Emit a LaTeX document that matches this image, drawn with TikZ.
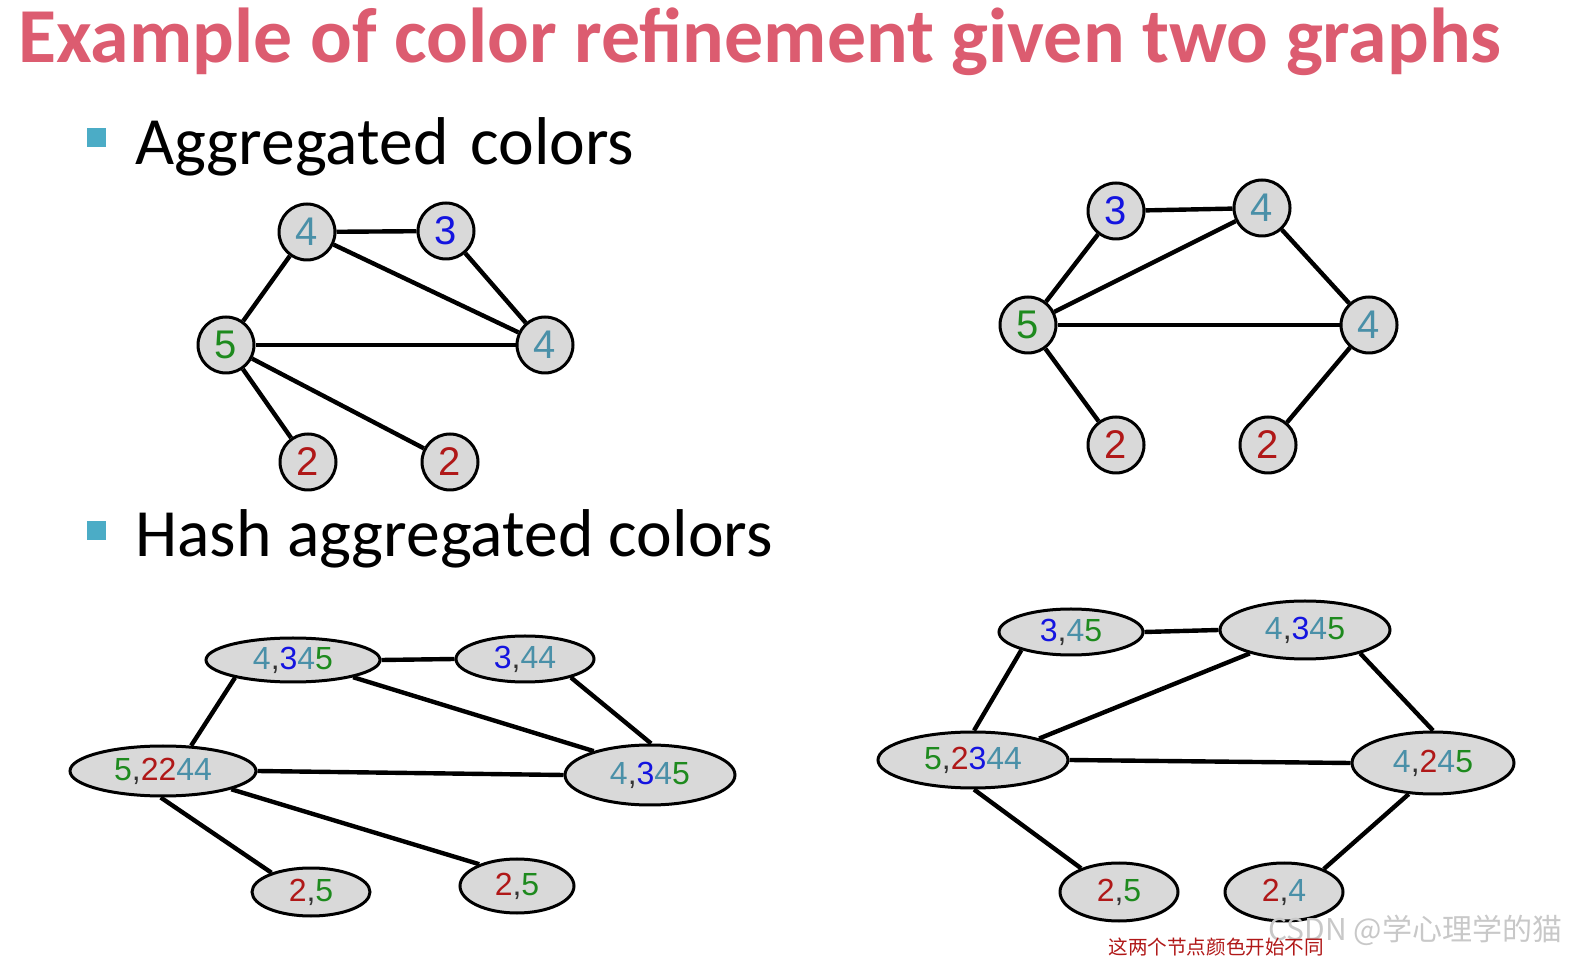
\documentclass[tikz,border=0pt]{standalone}
\usepackage{fontspec}
\setmainfont{Carlito}
\newfontfamily\digitfont{Liberation Sans}
\newfontfamily\cjkfont{Noto Sans CJK SC}
\usetikzlibrary{shapes.geometric, backgrounds}
\definecolor{ctitle}{HTML}{DC5C70}
\definecolor{cbullet}{HTML}{4BACC6}
\definecolor{cnode}{HTML}{D9D9D9}
\definecolor{ccomma}{HTML}{333333}
\definecolor{cmark}{HTML}{C8C8C8}
\definecolor{d2}{HTML}{B01818}
\definecolor{d3}{HTML}{1414E0}
\definecolor{d4}{HTML}{4A90A8}
\definecolor{d5}{HTML}{1E8A1E}
\newcommand{\dg}[1]{\textcolor{d#1}{#1}}
\newcommand{\cm}{\textcolor{ccomma}{,}}
\tikzset{
  every picture/.style={x=0.5pt, y=-0.5pt},
  vtx/.style={circle, draw=black, line width=1.5pt, fill=cnode, minimum size=28pt, inner sep=0pt, font=\digitfont\fontsize{20}{20}\selectfont},
  blob/.style 2 args={ellipse, draw=black, line width=1.5pt, fill=cnode, minimum width=#1pt, minimum height=#2pt, inner sep=0pt, font=\digitfont\fontsize{16}{16}\selectfont},
  edge/.style={line width=2.2pt},
  title/.style={anchor=base west, inner sep=0pt, text=ctitle, font=\fontsize{38.9}{40}\selectfont\bfseries},
  head/.style={anchor=base west, inner sep=0pt, font=\fontsize{33.8}{36}\selectfont},
  bul/.style={fill=cbullet, minimum size=9.5pt, inner sep=0pt},
  note/.style={anchor=base west, inner sep=0pt, text=d2, font=\cjkfont\fontsize{9.8}{10}\selectfont},
  wmark/.style={anchor=base west, inner sep=0pt, text=cmark, font=\cjkfont\fontsize{15}{15}\selectfont},
}
\begin{document}
\begin{tikzpicture}
  \useasboundingbox (0,0) rectangle (1569,961);
  \node[title] (ttl) at (18,63) {Example of color refinement given two graphs};

  % headings
  \node[bul] (b1) at (96.5,137.5) {};
  \node[head] (h1) at (135,165) {Aggregated\hspace{0.1em} colors};
  \node[bul] (b2) at (96.5,530.5) {};
  \node[head] (h2) at (135,557) {Hash aggregated colors};

  % aggregated colors, left graph
  \node[vtx] (a4) at (307,232) {\dg4};
  \node[vtx] (a3) at (446,231) {\dg3};
  \node[vtx] (a5) at (226,345) {\dg5};
  \node[vtx] (a4r) at (545,345) {\dg4};
  \node[vtx] (a2l) at (308,462) {\dg2};
  \node[vtx] (a2r) at (450,462) {\dg2};
  \draw[edge] (a4) -- (a3);
  \draw[edge] (a4) -- (a5);
  \draw[edge] (a4) -- (a4r);
  \draw[edge] (a3) -- (a4r);
  \draw[edge] (a5) -- (a4r);
  \draw[edge] (a5) -- (a2l);
  \draw[edge] (a5) -- (a2r);

  % aggregated colors, right graph
  \node[vtx] (b3) at (1116,211) {\dg3};
  \node[vtx] (b4) at (1262,208) {\dg4};
  \node[vtx] (b5) at (1028,325) {\dg5};
  \node[vtx] (b4r) at (1369,325) {\dg4};
  \node[vtx] (b2l) at (1116,445) {\dg2};
  \node[vtx] (b2r) at (1268,445) {\dg2};
  \draw[edge] (b3) -- (b4);
  \draw[edge] (b3) -- (b5);
  \draw[edge] (b4) -- (b5);
  \draw[edge] (b4) -- (b4r);
  \draw[edge] (b5) -- (b4r);
  \draw[edge] (b5) -- (b2l);
  \draw[edge] (b4r) -- (b2r);

  % hashed colors, left graph
  \node[blob={87}{22}] (c1) at (293,660) {\dg4\cm\dg3\dg4\dg5};
  \node[blob={69}{23}] (c2) at (525,659) {\dg3\cm\dg4\dg4};
  \node[blob={93}{25}] (c3) at (163,771) {\dg5\cm\dg2\dg2\dg4\dg4};
  \node[blob={85}{30}] (c4) at (650,775) {\dg4\cm\dg3\dg4\dg5};
  \node[blob={59}{24}] (c5) at (311,892) {\dg2\cm\dg5};
  \node[blob={57}{27}] (c6) at (517,886) {\dg2\cm\dg5};
  \draw[edge] (c1.east) -- (c2.west);
  \draw[edge] (c1.197) -- (c3.42);
  \draw[edge] (c1.-16) -- (c4.157);
  \draw[edge] (c2.-22) -- (c4.88);
  \draw[edge] (c3.east) -- (c4.west);
  \draw[edge] (c3.-95) -- (c5.154);
  \draw[edge] (c3.-15) -- (c6.150);

  % hashed colors, right graph
  \node[blob={72}{23}] (d1) at (1071,632) {\dg3\cm\dg4\dg5};
  \node[blob={85}{29}] (d2) at (1305,630) {\dg4\cm\dg3\dg4\dg5};
  \node[blob={95}{28}] (d3) at (973,760) {\dg5\cm\dg2\dg3\dg4\dg4};
  \node[blob={81}{31}] (d4) at (1433,763) {\dg4\cm\dg2\dg4\dg5};
  \node[blob={59}{29}] (d5) at (1119,892) {\dg2\cm\dg5};
  \node[blob={59}{29}] (d6) at (1284,892) {\dg2\cm\dg4};
  \draw[edge] (d1.east) -- (d2.west);
  \draw[edge] (d1.200) -- (d3.88);
  \draw[edge] (d2.203) -- (d3.18);
  \draw[edge] (d2.-23) -- (d4.90);
  \draw[edge] (d3.east) -- (d4.west);
  \draw[edge] (d3.-88) -- (d5.148);
  \draw[edge] (d4.232) -- (d6.30);

  % notes
  \node[wmark] (wm) at (1268,940) {CSDN @学心理学的猫};
  \node[note] (nt) at (1108,954) {这两个节点颜色开始不同};
\end{tikzpicture}
\end{document}
